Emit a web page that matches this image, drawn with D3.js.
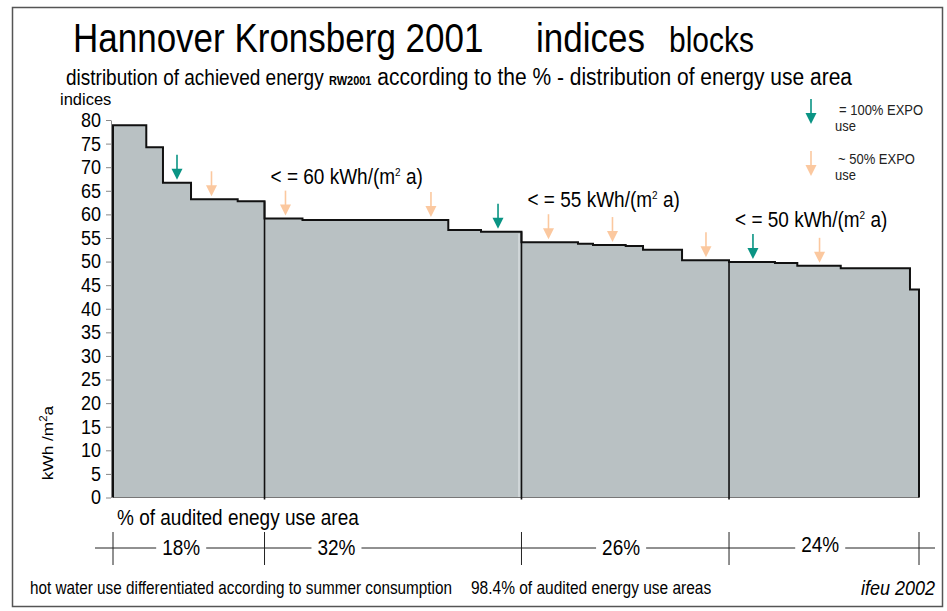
<!DOCTYPE html>
<html><head><meta charset="utf-8">
<script src="https://cdn.jsdelivr.net/npm/d3@7"></script>
<style>
html,body{margin:0;padding:0;background:#fff;}
svg{display:block;font-family:"Liberation Sans",Arial,Helvetica,sans-serif;}
</style></head><body>
<svg id="chart" width="947" height="611"></svg>
<script>
// Share of audited energy use area (%) per block, in descending order of index
const areaShare = [4.13, 2.07, 3.48, 5.79, 3.33, 4.71, 18.09, 4.06, 5.02, 7.01,
                   1.86, 4.06, 2.15, 4.84, 5.83, 5.70, 2.77, 5.39, 8.59, 1.12];
// Achieved energy index per block, kWh/(m² a)
const energyIndex = [78.9, 74.2, 66.7, 63.2, 62.8, 59.1, 58.8, 56.7, 56.3, 54.1,
                     53.8, 53.5, 53.3, 52.5, 50.3, 49.9, 49.7, 49.1, 48.6, 44.1];
// Standard class of each block
const blockGroup = [0, 0, 0, 0, 0, 1, 1, 1, 1, 2, 2, 2, 2, 2, 2, 3, 3, 3, 3, 3];
const groupShare = ["18%", "32%", "26%", "24%"];
const groupLimit = [null, "60", "55", "50"];
// EXPO usage markers: position on the cumulative area axis (%) and EXPO share
const expoAt = [7.94, 12.22, 21.40, 39.45, 47.77, 54.03, 61.97, 73.57, 79.40, 87.66];
const expoShare = [100, 50, 50, 50, 100, 50, 50, 50, 100, 50];
const yTicks = d3.range(0, 81, 5);

const COL_FILL = "#b9c1c3", COL_TEAL = "#0a9484", COL_PEACH = "#fbc89f";
const SY = 1.15; // vertical text stretch

const svg = d3.select("#chart");

// outer frame
svg.append("rect").attr("x", 12.5).attr("y", 7.5).attr("width", 930).attr("height", 599)
  .attr("fill", "none").attr("stroke", "#555").attr("stroke-width", 1.5);

function text(g, x, y, str, size, opts = {}) {
  const sy = opts.sy || SY;
  const t = g.append("text")
    .attr("transform", `translate(${x},${y}) scale(1,${sy})`)
    .attr("font-size", size)
    .attr("fill", opts.fill || "#000")
    .attr("text-anchor", opts.anchor || "start")
    .text(str);
  if (opts.italic) t.attr("font-style", "italic");
  if (opts.weight) t.attr("font-weight", opts.weight);
  return t;
}

const cum = [0];
areaShare.forEach(w => cum.push(cum[cum.length - 1] + w));
const total = cum[cum.length - 1];

const x = d3.scaleLinear().domain([0, total]).range([113, 919]);
const y = d3.scaleLinear().domain([0, 80]).range([497.5, 120]);

// titles
text(svg, 73, 52, "Hannover Kronsberg 2001", 35);
text(svg, 536, 52, "indices", 35);
text(svg, 669, 52, "blocks", 30);

const sub = svg.append("text")
  .attr("transform", `translate(66,84.5) scale(1,${SY})`)
  .attr("font-size", 19);
sub.append("tspan").text("distribution of achieved energy ");
sub.append("tspan").attr("font-size", 11).attr("font-weight", "bold").text("RW2001");
sub.append("tspan").attr("font-size", 21).text("  according to the % - distribution of energy  use area");

text(svg, 60, 105, "indices", 16.5, { sy: 1 });

// y axis
const yAxis = svg.append("g").attr("transform", "translate(111,0)")
  .call(d3.axisLeft(y).tickValues(yTicks).tickSize(5).tickPadding(5).tickSizeOuter(0));
yAxis.select(".domain").attr("stroke", "#888");
yAxis.selectAll(".tick line").attr("stroke", "#888");
yAxis.selectAll(".tick text")
  .attr("font-size", 18).attr("font-family", "Liberation Sans, Arial, sans-serif")
  .attr("fill", "#000").attr("dy", "0.33em")
  .attr("transform", "scale(1,1.08)");

const yl = svg.append("text")
  .attr("transform", `translate(53,443) rotate(-90) scale(${SY},1)`)
  .attr("font-size", 15).attr("text-anchor", "middle");
yl.append("tspan").text("kWh /m");
yl.append("tspan").attr("font-size", 10).attr("dy", -6).text("2");
yl.append("tspan").attr("dy", 6).text("a");

// stepped distribution
const pts = [[0, 0]];
energyIndex.forEach((v, i) => pts.push([cum[i], v]));
pts.push([total, energyIndex[energyIndex.length - 1]], [total, 0]);

const area = d3.area().curve(d3.curveStepAfter)
  .x(d => x(d[0])).y0(y(0)).y1(d => y(d[1]));
const outline = d3.line().curve(d3.curveStepAfter).x(d => x(d[0])).y(d => y(d[1]));

svg.append("path").datum(pts).attr("d", area).attr("fill", COL_FILL);

// light seam at half of the audited area
svg.append("line")
  .attr("x1", x(50) + 3).attr("x2", x(50) + 3)
  .attr("y1", y(energyIndex[8]) + 2).attr("y2", y(0))
  .attr("stroke", "#d9dddf").attr("stroke-width", 1.5);

svg.append("line").attr("x1", x(0)).attr("x2", x(total)).attr("y1", y(0)).attr("y2", y(0))
  .attr("stroke", "#777").attr("stroke-width", 1);

svg.append("path").datum(pts).attr("d", outline)
  .attr("fill", "none").attr("stroke", "#111").attr("stroke-width", 2);

// group extents
const groups = groupShare.map((s, g) => {
  const idx = blockGroup.map((b, i) => b === g ? i : -1).filter(i => i >= 0);
  return { start: cum[idx[0]], end: cum[idx[idx.length - 1] + 1], first: idx[0], label: s, limit: groupLimit[g] };
});

groups.forEach((gr, g) => {
  if (g === 0) return;
  const top = Math.max(energyIndex[gr.first - 1], energyIndex[gr.first]);
  svg.append("line")
    .attr("x1", x(gr.start)).attr("x2", x(gr.start))
    .attr("y1", y(top)).attr("y2", y(0) + 2)
    .attr("stroke", "#111").attr("stroke-width", 1.6);
  // class limit annotation
  const t = svg.append("text")
    .attr("transform", `translate(${x(gr.start) + 6},${y(energyIndex[gr.first]) - 35}) scale(1,${SY})`)
    .attr("font-size", 19);
  t.append("tspan").text(g === 2 ? "<  = " : "< = ");
  t.append("tspan").text(gr.limit);
  t.append("tspan").text(" kWh/(m");
  t.append("tspan").attr("font-size", 10).attr("dy", -7).text("2");
  t.append("tspan").attr("dy", 7).text(" a)");
});

// EXPO markers
function arrow(g, cx, tipY, color) {
  g.append("line").attr("x1", cx).attr("x2", cx).attr("y1", tipY - 25).attr("y2", tipY - 9)
    .attr("stroke", color).attr("stroke-width", 1.6);
  g.append("path")
    .attr("d", `M${cx - 5.5},${tipY - 11}L${cx + 5.5},${tipY - 11}L${cx},${tipY}Z`)
    .attr("fill", color);
}
const mk = svg.append("g");
expoAt.forEach((p, k) => {
  const i = d3.bisectRight(cum, p) - 1;
  arrow(mk, x(p), y(energyIndex[i]) - 3, expoShare[k] === 100 ? COL_TEAL : COL_PEACH);
});

// legend
arrow(svg, 811, 124, COL_TEAL);
text(svg, 839, 115, "= 100% EXPO", 13, { fill: "#222" });
text(svg, 835, 131, "use", 13, { fill: "#222" });
arrow(svg, 811, 176, COL_PEACH);
text(svg, 838, 164, "~ 50% EXPO", 13, { fill: "#222" });
text(svg, 835, 180, "use", 13, { fill: "#222" });

// area-share bracket axis
text(svg, 117, 525, "% of audited enegy use area", 19);
const by = 548;
const br = svg.append("g");
const labelFrac = [0.45, 0.28, 0.48, 0.48];
const lbls = groups.map((gr, g) => {
  const cx = x(gr.start) + labelFrac[g] * (x(gr.end) - x(gr.start));
  return text(br, cx, g === 3 ? by + 4 : by + 7, gr.label, 19, { anchor: "middle" });
});
const gaps = lbls.map(t => { const b = t.node().getBoundingClientRect(); return [b.left - 6, b.right + 6]; });
let cursor = 95;
gaps.forEach(([a, b]) => {
  br.append("line").attr("x1", cursor).attr("x2", a).attr("y1", by).attr("y2", by)
    .attr("stroke", "#222").attr("stroke-width", 1);
  cursor = b;
});
br.append("line").attr("x1", cursor).attr("x2", 935).attr("y1", by).attr("y2", by)
  .attr("stroke", "#222").attr("stroke-width", 1);
[groups[0].start, ...groups.map(g => g.end)].forEach(v => {
  br.append("line").attr("x1", x(v)).attr("x2", x(v)).attr("y1", 532).attr("y2", 565)
    .attr("stroke", "#222").attr("stroke-width", 1);
});

// footer
text(svg, 30, 594, "hot water use differentiated according to summer consumption", 15.3);
text(svg, 471, 594, "98.4% of audited energy use areas", 15.5);
text(svg, 935, 595, "ifeu 2002", 18, { anchor: "end", italic: true });
</script>
</body></html>
